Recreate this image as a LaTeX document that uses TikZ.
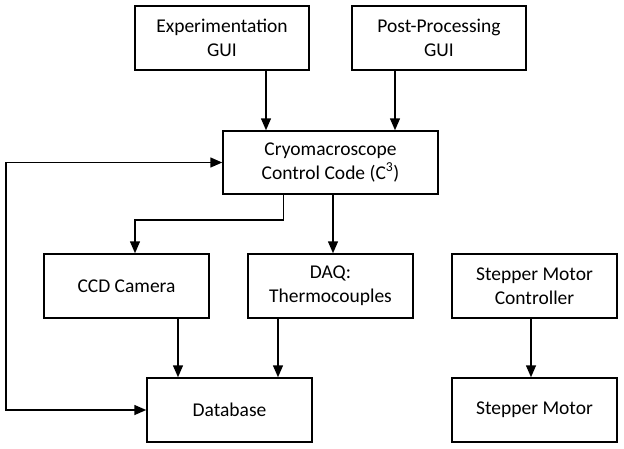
\documentclass[tikz,border=0pt]{standalone}
\usepackage{fontspec}
\setmainfont{Carlito}
\usetikzlibrary{
  calc,
  arrows.meta
}

\tikzset{
  blk/.style={draw, line width=1.5pt, align=center, inner sep=0pt,
    minimum width=165, minimum height=64,
    font=\fontsize{19.5}{24}\selectfont},
  wide/.style={blk, minimum width=174},
  flow/.style={line width=1.5pt, -{Triangle[length=12pt,width=10pt]}}
}

\begin{document}
\begin{tikzpicture}[x=1pt, y=-1pt]
  \useasboundingbox (0,0) rectangle (624,448);

  \node[wide] (exp) at (222,38) {Experimentation\\GUI};
  \node[wide] (post) at (439,38) {Post-Processing\\GUI};
  \node[blk, minimum width=215, minimum height=63] (c3) at (330.5,162.5)
    {Cryomacroscope\\Control Code (C\textsuperscript{3})};
  \node[blk] (ccd) at (126.5,286) {CCD Camera};
  \node[blk] (daq) at (330.5,286) {DAQ:\\Thermocouples};
  \node[blk] (smc) at (534.5,286) {Stepper Motor\\Controller};
  \node[blk] (db) at (229.5,410) {Database};
  \node[blk] (sm) at (534.5,410) {Stepper Motor};

  \coordinate (fb) at (6,0);
  \coordinate (split) at (0,220);
  \coordinate (exp out) at ($(exp.south)+(44,0)$);
  \coordinate (post out) at ($(post.south)+(-44,0)$);
  \coordinate (c3 cam) at ($(c3.south)+(-47,0)$);
  \coordinate (c3 daq) at ($(c3.south)+(2.5,0)$);
  \coordinate (ccd in) at ($(ccd.north)+(8.5,0)$);
  \coordinate (ccd out) at ($(ccd.south)+(51.5,0)$);
  \coordinate (daq out) at ($(daq.south)+(-52.5,0)$);
  \coordinate (smc out) at ($(smc.south)+(-3.5,0)$);

  \draw[flow] (exp out) -- (exp out |- c3.north);
  \draw[flow] (post out) -- (post out |- c3.north);
  \draw[flow] (c3 cam) -- (c3 cam |- split) -| (ccd in);
  \draw[flow] (c3 daq) -- (c3 daq |- daq.north);
  \draw[flow] (ccd out) -- (ccd out |- db.north);
  \draw[flow] (daq out) -- (daq out |- db.north);
  \draw[flow] (smc out) -- (smc out |- sm.north);
  \draw[flow, {Triangle[length=12pt,width=10pt]}-{Triangle[length=12pt,width=10pt]}]
    (db.west) -- (db.west -| fb) |- (c3.west);
\end{tikzpicture}
\end{document}
